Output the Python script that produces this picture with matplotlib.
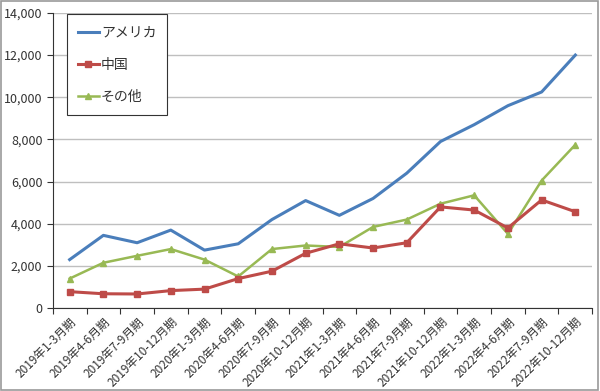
import numpy as np
import matplotlib
matplotlib.use('Agg')
import matplotlib.pyplot as plt
from matplotlib.ticker import FixedLocator, FuncFormatter

plt.rcParams['font.family'] = ['Noto Sans CJK JP', 'DejaVu Sans']

periods = ["2019年1-3月期", "2019年4-6月期", "2019年7-9月期", "2019年10-12月期",
           "2020年1-3月期", "2020年4-6月期", "2020年7-9月期", "2020年10-12月期",
           "2021年1-3月期", "2021年4-6月期", "2021年7-9月期", "2021年10-12月期",
           "2022年1-3月期", "2022年4-6月期", "2022年7-9月期", "2022年10-12月期"]
usa = [2300, 3450, 3100, 3700, 2750, 3050, 4200, 5100,
       4400, 5200, 6400, 7900, 8700, 9600, 10250, 12000]
china = [780, 680, 670, 830, 900, 1400, 1750, 2600,
         3050, 2850, 3100, 4800, 4650, 3800, 5130, 4570]
other = [1400, 2150, 2480, 2800, 2300, 1500, 2800, 2970,
         2900, 3850, 4200, 4950, 5350, 3520, 6050, 7750]

x = np.arange(len(periods))

fig = plt.figure(figsize=(6.0, 3.91), dpi=100)
fig.patch.set_facecolor("white")
# outer grey frame
fig.add_artist(plt.Rectangle((0.002, 0.003), 0.995, 0.994, transform=fig.transFigure,
                             fill=False, edgecolor="#9a9a9a", linewidth=1.2))

ax = fig.add_axes([0.088, 0.212, 0.899, 0.755])

ax.plot(x, usa, color="#4A7EBB", lw=2.2, label="アメリカ", zorder=3)
ax.plot(x, china, color="#BE4B48", lw=2.2, marker="s", ms=4.5, label="中国", zorder=4)
ax.plot(x, other, color="#98B954", lw=1.8, marker="^", ms=5, label="その他", zorder=3)

ax.set_xlim(-0.5, len(periods) - 0.5)
ax.set_ylim(0, 14000)
ax.set_yticks(np.arange(0, 14001, 2000))
ax.yaxis.set_major_formatter(FuncFormatter(lambda v, p: f"{int(v):,}"))
ax.grid(axis="y", color="#bfbfbf", lw=1)
ax.set_axisbelow(True)

ax.xaxis.set_major_locator(FixedLocator(np.arange(-0.5, len(periods), 1.0)))
ax.xaxis.set_major_formatter(FuncFormatter(lambda v, p: ""))
ax.xaxis.set_minor_locator(FixedLocator(x))
ax.set_xticklabels(periods, minor=True, rotation=45, ha="right",
                   rotation_mode="anchor", fontsize=8.5, color="#333333")
ax.tick_params(axis="x", which="major", length=4, direction="out", color="#333333")
ax.tick_params(axis="x", which="minor", length=0, pad=5)
ax.tick_params(axis="y", length=4, direction="out", labelsize=9, colors="#333333")

for side in ["top", "right"]:
    ax.spines[side].set_visible(False)
for side in ["left", "bottom"]:
    ax.spines[side].set_color("#333333")

leg = ax.legend(loc="upper left", bbox_to_anchor=(0.026, 0.995), fontsize=10,
                handlelength=1.5, handletextpad=0.15, labelspacing=1.3,
                borderpad=0.8, fancybox=False, framealpha=1,
                edgecolor="#333333", borderaxespad=0)
leg.get_frame().set_linewidth(0.8)
for t in leg.get_texts():
    t.set_color("#333333")

fig.savefig("out.png", dpi=100)
